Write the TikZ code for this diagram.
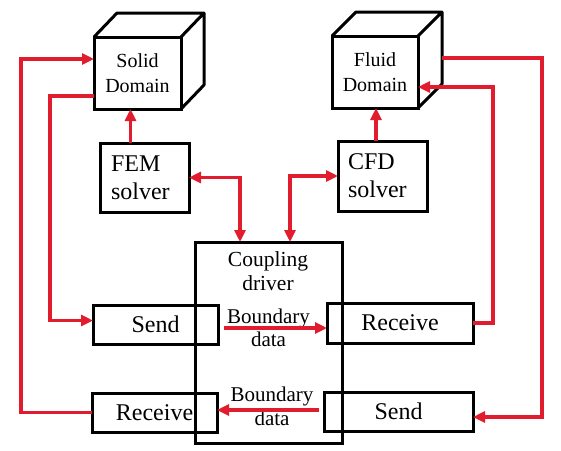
\documentclass[tikz,border=0pt]{standalone}
\usepackage{fontspec}
\setmainfont{Liberation Serif}
\usetikzlibrary{arrows.meta}
\definecolor{linkred}{RGB}{224,28,46}

\begin{document}
\begin{tikzpicture}[x=1pt,y=-1pt,
  blk/.style={draw,line width=3pt,inner sep=0pt,outer sep=0pt,align=center},
  bigtext/.style={font=\fontsize{24}{28}\selectfont},
  link/.style={linkred,line width=3.5pt,-{Triangle[length=12pt,width=11pt]}},
  linkboth/.style={link,{Triangle[length=12pt,width=11pt]}-{Triangle[length=12pt,width=11pt]}}]
\useasboundingbox (0,0) rectangle (561,450);

\node[blk,minimum width=87pt,minimum height=72pt,font=\fontsize{20}{25}\selectfont] (solid) at (137.5,73) {Solid\\Domain};
\draw[line width=3pt,line join=round] (solid.north west) -- ++(23,-24) -- ++(87,0) -- ++(0,72) -- (solid.south east) (solid.north east) -- ++(23,-24);
\node[blk,minimum width=86pt,minimum height=72pt,font=\fontsize{20}{25}\selectfont] (fluid) at (375,72) {Fluid\\Domain};
\draw[line width=3pt,line join=round] (fluid.north west) -- ++(24,-24) -- ++(86,0) -- ++(0,72) -- (fluid.south east) (fluid.north east) -- ++(24,-24);

\node[blk,bigtext,minimum height=69pt,text width=67pt,inner xsep=11pt,align=left] (fem) at (144.5,177.5) {FEM\\solver};
\node[blk,bigtext,minimum height=70pt,text width=69pt,inner xsep=10pt,align=left] (cfd) at (382.5,176) {CFD\\solver};

\node[blk,minimum width=147pt,minimum height=201pt] (coupling) at (268.5,342.5) {};
\node[font=\fontsize{21.5}{24}\selectfont,align=center] (drivertext) at (268,271) {Coupling\\driver};

\node[blk,bigtext,minimum width=125pt,minimum height=39pt] (sendL) at (155.5,324.5) {Send};
\node[blk,bigtext,minimum width=146pt,minimum height=40pt] (recvR) at (400,323) {Receive};
\node[blk,bigtext,minimum width=125pt,minimum height=39pt] (recvL) at (154.5,412.5) {Receive};
\node[blk,bigtext,minimum width=149pt,minimum height=39pt] (sendR) at (398.5,411.5) {Send};

\node[font=\fontsize{21}{23}\selectfont,align=center] (bdup) at (268.5,328) {Boundary\\data};
\node[font=\fontsize{21}{24}\selectfont,align=center] (bddown) at (272,406) {Boundary\\data};

\draw[link] (recvL.west) -- ++(-71,0) |- ([yshift=14pt]solid.west);
\draw[link] ([yshift=-23pt]solid.west) -- ++(-44,0) |- ([yshift=4pt]sendL.west);
\draw[link] ([xshift=-14pt]fem.north) -- ([xshift=-7pt]solid.south);
\draw[linkboth] (fem.east) -| ([xshift=-28.5pt]coupling.north);
\draw[linkboth] (cfd.west) -| ([xshift=21.5pt]coupling.north);
\draw[link] ([xshift=-6.5pt]cfd.north) -- ([xshift=1pt]fluid.south);
\draw[link] ([xshift=24pt,yshift=14pt]fluid.east) -- ++(100,0) |- ([yshift=-5.5pt]sendR.east);
\draw[link] (recvR.east) -- ++(20,0) |- ([yshift=-15pt]fluid.east);
\draw[link] ([xshift=6pt,yshift=-3.5pt]sendL.east) -- ([yshift=-5pt]recvR.west);
\draw[link] ([xshift=-5pt,yshift=1.5pt]sendR.west) -- ([yshift=2.5pt]recvL.east);
\end{tikzpicture}
\end{document}
